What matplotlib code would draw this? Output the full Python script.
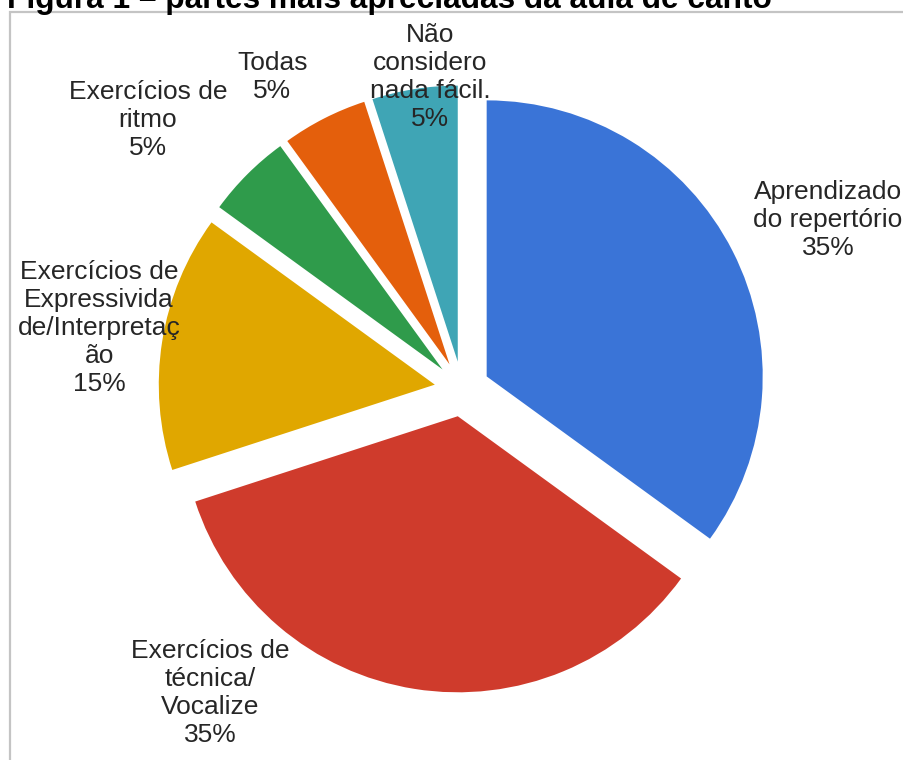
import matplotlib.pyplot as plt
from matplotlib.patches import Rectangle

plt.rcParams['font.family'] = ['Liberation Sans', 'DejaVu Sans']

# survey answers: easiest part of the singing lesson
categories = [
    'Aprendizado\ndo repertório',
    'Exercícios de\ntécnica/\nVocalize',
    'Exercícios de\nExpressivida\nde/Interpretaç\não',
    'Exercícios de\nritmo',
    'Todas',
    'Não\nconsidero\nnada fácil.',
]
shares = [35, 35, 15, 5, 5, 5]
colors = ['#3A74D7', '#CF3B2C', '#E0A700', '#2F9B4B', '#E45F0C', '#3FA5B5']

# label centres in data units (pie radius = 1)
label_pos = [(1.326, 0.612), (-0.913, -1.101), (-1.315, 0.221),
             (-1.138, 0.975), (-0.688, 1.130), (-0.116, 1.130)]

fig = plt.figure(figsize=(9.04, 7.60), dpi=100)
ax = fig.add_axes([0, 0, 1, 1])

ax.pie(shares, colors=colors, startangle=90, counterclock=False,
       explode=[0.1] * len(shares), radius=1.0,
       wedgeprops=dict(linewidth=0))

for cat, val, (x, y) in zip(categories, shares, label_pos):
    ax.text(x, y, '%s\n%d%%' % (cat, val), ha='center', va='center',
            fontsize=19, color='#262626', linespacing=1.22)

ax.set_xlim(-1.674, 1.601)
ax.set_ylim(-1.344, 1.409)
ax.set_aspect('auto')
ax.axis('off')

# outer chart frame
fig.patches.append(Rectangle((10 / 904, -0.05), 1.0, 1.05 - 12 / 760,
                             transform=fig.transFigure, fill=False,
                             edgecolor='#C4C4C4', linewidth=1.6))

fig.text(7 / 904, 1 - 8 / 760, 'Figura 1 – partes mais apreciadas da aula de canto',
         ha='left', va='baseline', fontsize=22.8, fontweight='bold', color='black')

fig.savefig('out.png', dpi=100)
